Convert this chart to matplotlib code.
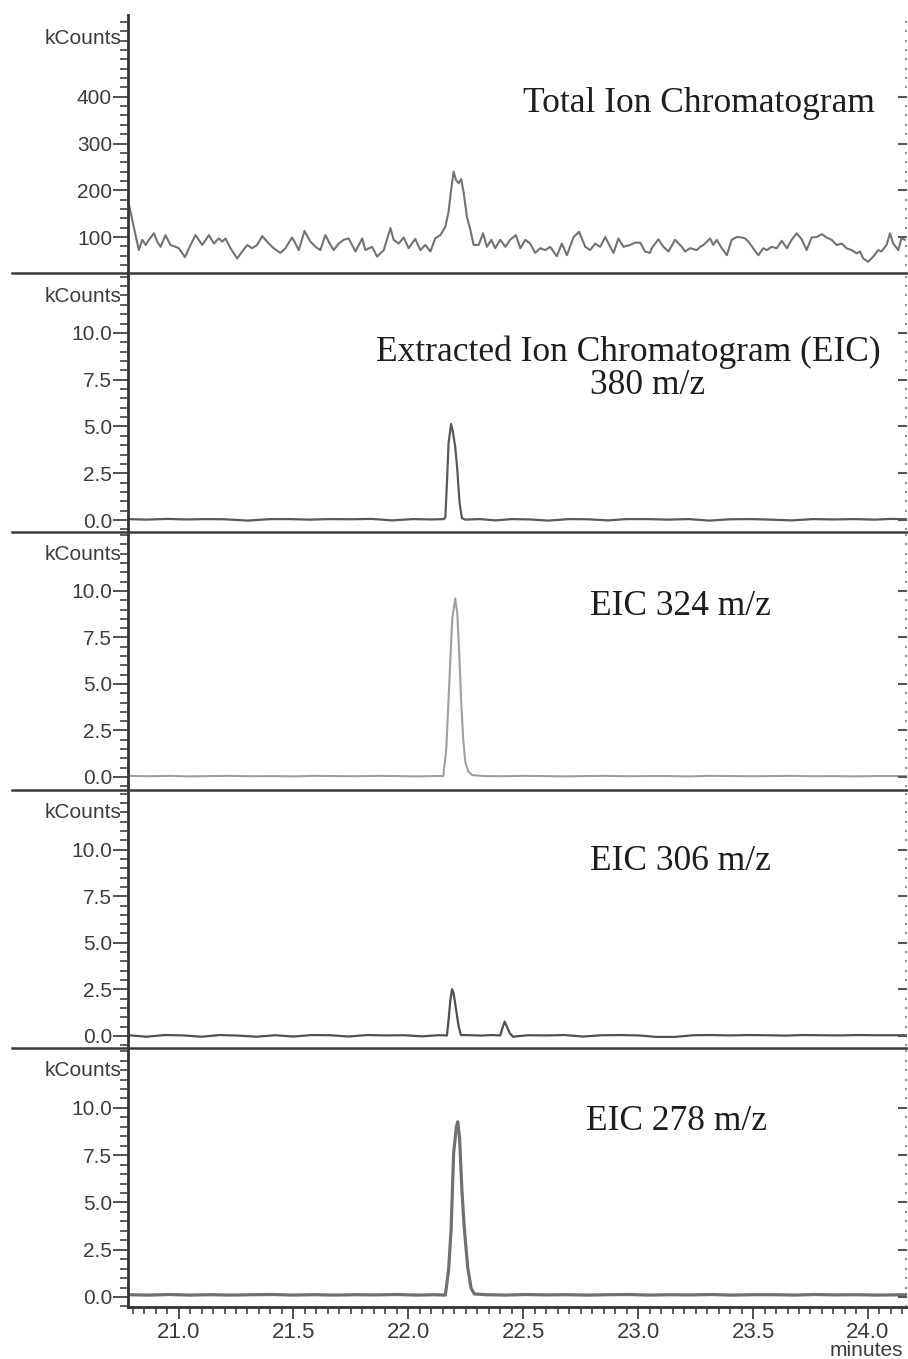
import matplotlib
matplotlib.use("Agg")
import matplotlib.pyplot as plt
from matplotlib.ticker import FixedLocator, MultipleLocator, FormatStrFormatter
from matplotlib.lines import Line2D

W, H = 908, 1359

# ── data (minutes, kCounts) ────────────────────────────────────────────────

tic_t = [20.783, 20.799, 20.827, 20.842, 20.857, 20.871, 20.893, 20.907, 20.922, 20.943,
         20.965, 20.987, 21.001, 21.028, 21.052, 21.074, 21.103, 21.132, 21.154, 21.175,
         21.190, 21.204, 21.226, 21.255, 21.277, 21.299, 21.320, 21.342, 21.364, 21.393,
         21.414, 21.443, 21.465, 21.494, 21.509, 21.523, 21.548, 21.574, 21.596, 21.617,
         21.639, 21.661, 21.675, 21.697, 21.719, 21.740, 21.770, 21.799, 21.813, 21.842,
         21.864, 21.893, 21.922,
         21.936, 21.958, 21.980, 22.001, 22.030, 22.052, 22.074, 22.096, 22.117, 22.139,
         22.161, 22.175, 22.186, 22.197, 22.207, 22.219, 22.230, 22.241, 22.255, 22.270,
         22.284, 22.306, 22.325, 22.342, 22.361, 22.378, 22.400, 22.422, 22.443, 22.468,
         22.487, 22.509, 22.530, 22.552, 22.574, 22.596, 22.617, 22.646, 22.668, 22.690,
         22.719, 22.743, 22.770, 22.791, 22.813, 22.835, 22.857, 22.871, 22.893, 22.914,
         22.936, 22.965, 22.987, 23.009, 23.030, 23.052,
         23.059, 23.088, 23.110, 23.132, 23.161, 23.190, 23.204, 23.226, 23.255, 23.270,
         23.284, 23.299, 23.313, 23.327, 23.342, 23.364, 23.386, 23.407, 23.429, 23.451,
         23.465, 23.480, 23.501, 23.523, 23.545, 23.560, 23.581, 23.603, 23.625, 23.647,
         23.668, 23.690, 23.712, 23.733, 23.755, 23.777, 23.799, 23.820, 23.842, 23.864,
         23.886, 23.907, 23.929, 23.951, 23.965, 23.980, 24.001, 24.023, 24.045, 24.059,
         24.081, 24.096, 24.110, 24.132, 24.146, 24.161]
tic_v = [172, 136, 72, 94, 83, 94, 108, 90, 79, 104,
         83, 79, 76, 57, 83, 104, 83, 104, 86, 97,
         90, 97, 76, 54, 69, 83, 76, 83, 102, 86,
         76, 66, 76, 99, 86, 72, 113, 90, 79, 72,
         104, 83, 72, 86, 94, 97, 69, 97, 72, 79,
         58, 72, 119,
         94, 86, 99, 76, 96, 72, 83, 69, 97, 104,
         122, 154, 201, 240, 222, 215, 224, 194, 143, 115,
         83, 83, 108, 79, 94, 76, 94, 79, 94, 104,
         76, 94, 86, 66, 76, 72, 79, 59, 86, 61,
         100, 111, 79, 72, 86, 79, 100, 86, 66, 97,
         79, 83, 88, 88, 69, 66,
         76, 95, 79, 69, 94, 79, 69, 76, 72, 79,
         83, 90, 97, 83, 94, 76, 61, 94, 100, 99,
         97, 90, 76, 61, 76, 72, 79, 76, 92, 76,
         94, 108, 95, 72, 99, 100, 106, 99, 94, 83,
         86, 76, 72, 65, 69, 54, 47, 58, 72, 69,
         83, 108, 86, 72, 97, 94]

t_380 = [20.78, 20.86, 20.95, 21.03, 21.12, 21.20, 21.30, 21.40, 21.48, 21.57,
         21.66, 21.75, 21.84, 21.93, 22.02, 22.10, 22.154, 22.161, 22.168, 22.175,
         22.186, 22.194, 22.204, 22.212, 22.223, 22.233, 22.248, 22.31, 22.38, 22.45,
         22.53, 22.61, 22.70, 22.78, 22.87, 22.95, 23.04, 23.13, 23.22, 23.31,
         23.40, 23.49, 23.58, 23.67, 23.76, 23.85, 23.94, 24.03, 24.10, 24.17]
v_380 = [0.05, 0.02, 0.06, 0.03, 0.05, 0.04, -0.03, 0.05, 0.05, 0.02,
         0.05, 0.04, 0.06, -0.02, 0.05, 0.03, 0.05, 0.15, 2.0, 4.1,
         5.13, 4.7, 3.9, 2.85, 0.9, 0.1, 0.02, 0.05, -0.02, 0.05,
         0.03, -0.03, 0.05, 0.04, -0.02, 0.05, 0.05, 0.02, 0.05, -0.03,
         0.04, 0.05, 0.02, -0.02, 0.05, 0.03, 0.05, 0.02, 0.06, 0.04]

t_324 = [20.78, 20.87, 20.96, 21.05, 21.14, 21.23, 21.32, 21.41, 21.50, 21.59,
         21.68, 21.77, 21.86, 21.95, 22.04, 22.11, 22.152, 22.165, 22.178, 22.191,
         22.204, 22.213, 22.222, 22.230, 22.239, 22.248, 22.261, 22.278, 22.33, 22.41,
         22.50, 22.59, 22.68, 22.77, 22.86, 22.95, 23.04, 23.13, 23.22, 23.31,
         23.40, 23.49, 23.58, 23.67, 23.76, 23.85, 23.94, 24.03, 24.17]
v_324 = [0.06, 0.04, 0.06, 0.03, 0.05, 0.06, 0.04, 0.05, 0.03, 0.06,
         0.05, 0.04, 0.06, 0.05, 0.03, 0.05, 0.05, 1.5, 5.0, 8.5,
         9.6, 8.8, 6.5, 4.0, 2.0, 0.8, 0.3, 0.1, 0.05, 0.04,
         0.06, 0.05, 0.03, 0.05, 0.06, 0.04, 0.05, 0.05, 0.03, 0.06,
         0.05, 0.04, 0.05, 0.06, 0.04, 0.05, 0.03, 0.05, 0.05]

t_306 = [20.78, 20.86, 20.94, 21.02, 21.10, 21.18, 21.26, 21.34, 21.42, 21.50,
         21.58, 21.66, 21.74, 21.82, 21.90, 21.98, 22.06, 22.13,
         22.168, 22.175, 22.183, 22.190, 22.197, 22.209, 22.219, 22.229,
         22.27, 22.32, 22.36, 22.400,
         22.409, 22.419, 22.429, 22.441, 22.455,
         22.52, 22.60, 22.68, 22.76, 22.84, 22.92, 23.00, 23.08, 23.16, 23.24,
         23.32, 23.40, 23.48, 23.56, 23.64, 23.72, 23.80, 23.88, 23.96, 24.04, 24.17]
v_306 = [0.04, -0.04, 0.05, 0.03, -0.04, 0.05, 0.02, -0.04, 0.04, -0.03,
         0.05, 0.04, -0.03, 0.05, 0.03, 0.04, -0.02, 0.04,
         0.03, 0.86, 1.94, 2.51, 2.3, 1.31, 0.5, 0.05,
         0.04, 0.02, 0.05, 0.03,
         0.41, 0.77, 0.5, 0.16, -0.04,
         0.04, 0.03, 0.05, -0.03, 0.04, 0.05, 0.03, -0.05, -0.05, 0.04,
         0.05, 0.03, 0.05, 0.04, 0.02, 0.05, 0.04, 0.03, 0.05, 0.04, 0.04]

t_278 = [20.78, 20.87, 20.96, 21.05, 21.14, 21.23, 21.32, 21.41, 21.50, 21.59,
         21.68, 21.77, 21.86, 21.95, 22.04, 22.11,
         22.161, 22.175, 22.186, 22.197, 22.209, 22.215, 22.223, 22.233, 22.243, 22.258,
         22.273, 22.287,
         22.34, 22.42, 22.51, 22.60, 22.69, 22.78, 22.87, 22.96, 23.05, 23.14,
         23.23, 23.32, 23.41, 23.50, 23.59, 23.68, 23.77, 23.86, 23.95, 24.04, 24.17]
v_278 = [0.12, 0.1, 0.13, 0.1, 0.12, 0.1, 0.12, 0.13, 0.1, 0.12,
         0.1, 0.12, 0.11, 0.13, 0.1, 0.12,
         0.1, 1.43, 3.55, 7.6, 9.0, 9.27, 8.4, 5.66, 3.72, 1.6,
         0.46, 0.16,
         0.12, 0.1, 0.13, 0.11, 0.12, 0.1, 0.12, 0.13, 0.1, 0.12,
         0.11, 0.13, 0.1, 0.12, 0.12, 0.1, 0.13, 0.11, 0.12, 0.1, 0.12]

tic_ticks = [100, 200, 300, 400]
eic_ticks = [0.0, 2.5, 5.0, 7.5, 10.0]
x_range = (20.78, 24.17)

titles = [
    ("Total Ion Chromatogram", 699, 103),
    ("Extracted Ion Chromatogram (EIC)", 628, 352),
    ("380 m/z", 648, 386),
    ("EIC 324 m/z", 680, 606),
    ("EIC 306 m/z", 680, 862),
    ("EIC 278 m/z", 677, 1121),
]

# ── layout ─────────────────────────────────────────────────────────────────

panels = [
    dict(t=tic_t, v=tic_v, top=15, bot=273, ylim=(23, 575), major=tic_ticks,
         minor=20, fmt="%d", color="#737373", lw=1.5),
    dict(t=t_380, v=v_380, top=273, bot=532, ylim=(-0.64, 13.2), major=eic_ticks,
         minor=0.5, fmt="%.1f", color="#595959", lw=1.6),
    dict(t=t_324, v=v_324, top=532, bot=790, ylim=(-0.70, 13.17), major=eic_ticks,
         minor=0.5, fmt="%.1f", color="#a0a0a0", lw=1.5),
    dict(t=t_306, v=v_306, top=790, bot=1048, ylim=(-0.645, 13.2), major=eic_ticks,
         minor=0.5, fmt="%.1f", color="#505050", lw=1.6),
    dict(t=t_278, v=v_278, top=1048, bot=1307, ylim=(-0.53, 13.17), major=eic_ticks,
         minor=0.5, fmt="%.1f", color="#707070", lw=2.3),
]

SANS = "Liberation Sans"
SERIF = "Liberation Serif"
AXC = "#333333"
LABC = "#3c3c3c"

fig = plt.figure(figsize=(W / 100, H / 100), dpi=100)
fig.patch.set_facecolor("white")

for i, p in enumerate(panels):
    last = i == len(panels) - 1
    ax = fig.add_axes([128 / W, 1 - p["bot"] / H, (907 - 128) / W, (p["bot"] - p["top"]) / H])
    ax.plot(p["t"], p["v"], color=p["color"], lw=p["lw"], solid_joinstyle="round")
    ax.set_xlim(*x_range)
    ax.set_ylim(*p["ylim"])

    ax.yaxis.set_major_locator(FixedLocator(p["major"]))
    ax.yaxis.set_minor_locator(MultipleLocator(p["minor"]))
    ax.yaxis.set_major_formatter(FormatStrFormatter(p["fmt"]))
    ax.tick_params(axis="y", which="major", direction="out", length=11, width=1.2,
                   color=AXC, pad=0.5, labelsize=15, labelcolor=LABC)
    ax.tick_params(axis="y", which="minor", direction="out", length=6, width=1.1, color=AXC)
    for lab in ax.get_yticklabels():
        lab.set_fontfamily(SANS)

    for side in ("top", "right"):
        ax.spines[side].set_visible(False)
    ax.spines["left"].set_color(AXC)
    ax.spines["left"].set_linewidth(2)

    if last:
        ax.spines["bottom"].set_color(AXC)
        ax.spines["bottom"].set_linewidth(2)
        ax.xaxis.set_major_locator(MultipleLocator(0.5))
        ax.xaxis.set_minor_locator(MultipleLocator(0.05))
        ax.xaxis.set_major_formatter(FormatStrFormatter("%.1f"))
        ax.tick_params(axis="x", which="major", direction="out", length=8.5, width=1.2,
                       color=AXC, pad=2, labelsize=16, labelcolor=LABC)
        ax.tick_params(axis="x", which="minor", direction="out", length=5, width=1.1, color=AXC)
        for lab in ax.get_xticklabels():
            lab.set_fontfamily(SANS)
    else:
        ax.spines["bottom"].set_visible(False)
        ax.tick_params(axis="x", which="both", bottom=False, labelbottom=False)
        fig.add_artist(Line2D([12 / W, 1.0], [1 - p["bot"] / H] * 2,
                              transform=fig.transFigure, color="#3a3a3a", lw=1.8))

    # dotted right-hand scale
    ax2 = ax.twinx()
    ax2.set_ylim(*p["ylim"])
    ax2.yaxis.set_major_locator(FixedLocator(p["major"]))
    ax2.yaxis.set_minor_locator(MultipleLocator(p["minor"]))
    ax2.tick_params(axis="y", which="major", direction="in", length=6.5, width=1.5,
                    color="#555555", labelright=False)
    ax2.tick_params(axis="y", which="minor", direction="in", length=1.6, width=1.2,
                    color="#777777")
    for s in ax2.spines.values():
        s.set_visible(False)

    fig.text(121 / W, 1 - (p["top"] + 23) / H, "kCounts", ha="right", va="center",
             fontfamily=SANS, fontsize=15, color=LABC)

for txt, x, y in titles:
    fig.text(x / W, 1 - y / H, txt, ha="center", va="center",
             fontfamily=SERIF, fontsize=25.5, color="#1e1e1e")

fig.text(866 / W, 1 - 1350 / H, "minutes", ha="center", va="center",
         fontfamily=SANS, fontsize=15, color=LABC)

fig.savefig("out.png", dpi=100)
